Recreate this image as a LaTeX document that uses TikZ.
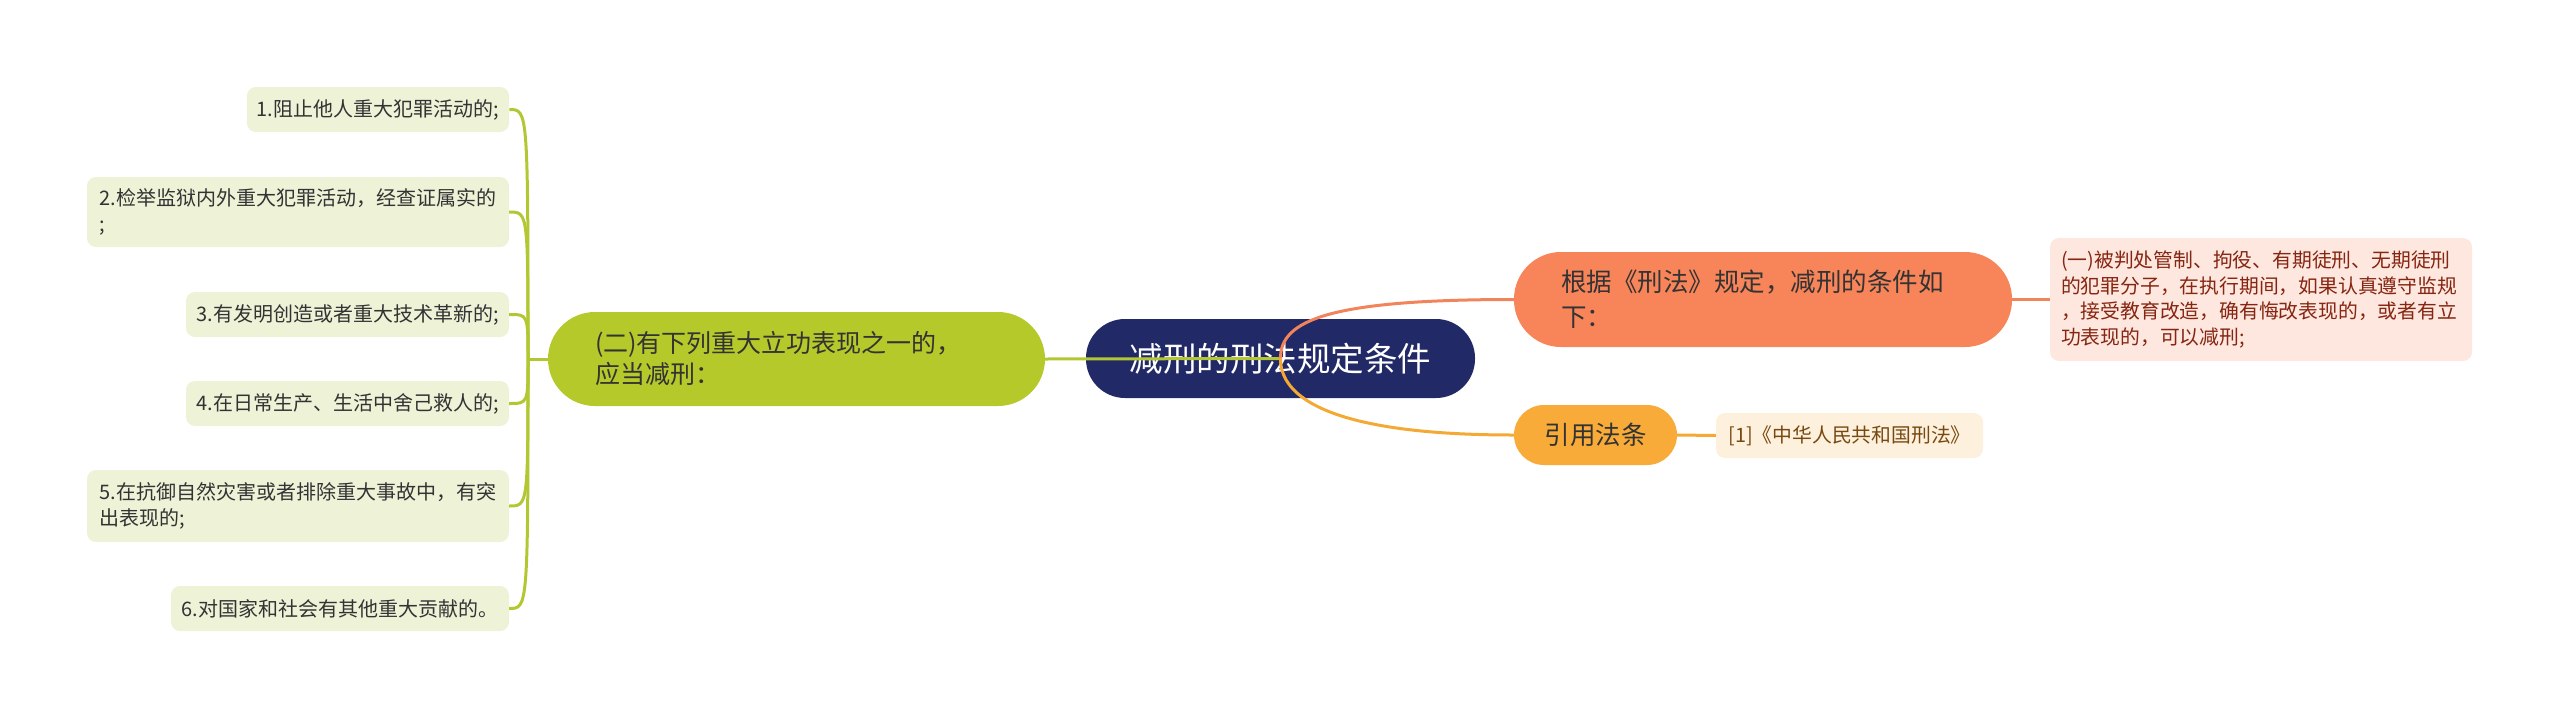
\documentclass[tikz,border=0pt]{standalone}
\usepackage{fontspec}
\setmainfont{Noto Sans CJK SC}
\definecolor{rootc}{HTML}{212966}
\definecolor{greenc}{HTML}{B5C92B}
\definecolor{greenl}{HTML}{B3C733}
\definecolor{leafc}{HTML}{EEF2D7}
\definecolor{salmonc}{HTML}{F8845A}
\definecolor{salmonl}{HTML}{F2845C}
\definecolor{orangec}{HTML}{F8AB38}
\definecolor{orangel}{HTML}{F5A935}
\definecolor{pinkleaf}{HTML}{FDE7DF}
\definecolor{pinktxt}{HTML}{862511}
\definecolor{creamleaf}{HTML}{FDF0DC}
\definecolor{creamtxt}{HTML}{77480F}
\definecolor{txt}{HTML}{333333}
\begin{document}
\begin{tikzpicture}[x=1pt,y=-1pt,
  leaf/.style={fill=leafc, rounded corners=9pt, inner xsep=10pt, inner ysep=0pt,
    minimum height=45pt, text=txt, font=\fontsize{20}{26}\selectfont, align=left},
  rootnode/.style={fill=rootc, rounded corners=39pt, minimum width=389pt, minimum height=79pt,
    inner sep=0pt, text=white, font=\fontsize{33.5}{38}\selectfont},
  branchnode/.style={fill=greenc, rounded corners=47pt, minimum height=94pt, inner ysep=0pt,
    inner xsep=47pt, text width=403pt, align=left, text=txt, font=\fontsize{25}{31}\selectfont},
  salmonnode/.style={fill=salmonc, rounded corners=47pt, minimum height=95pt, inner ysep=0pt,
    inner xsep=47pt, text width=404pt, align=left, text=txt, font=\fontsize{25.5}{35}\selectfont},
  quotenode/.style={fill=orangec, rounded corners=30pt, minimum width=163pt, minimum height=60pt,
    inner sep=0pt, text=txt, font=\fontsize{25.5}{30}\selectfont},
  pinknode/.style={fill=pinkleaf, rounded corners=9pt, minimum height=123pt, inner ysep=0pt,
    inner xsep=11pt, text width=400pt, align=left, text=pinktxt, font=\fontsize{19.8}{25.5}\selectfont},
  creamnode/.style={fill=creamleaf, rounded corners=9pt, minimum width=267pt, minimum height=45pt,
    inner sep=0pt, text=creamtxt, font=\fontsize{19.8}{24}\selectfont},
  gline/.style={draw=greenl, line width=3pt},
  sline/.style={draw=salmonl, line width=3pt},
  oline/.style={draw=orangel, line width=3pt}
]
\useasboundingbox (0,0) rectangle (2560,718);

% nodes
\node[rootnode] (root) at (1280.5,358.5) {减刑的刑法规定条件};
\node[branchnode] (br) at (796.5,359) {(二)有下列重大立功表现之一的，\\应当减刑：};
\node[leaf, minimum width=262pt] (l1) at (378,109.5) {1.阻止他人重大犯罪活动的;};
\node[leaf, minimum width=422pt, minimum height=70pt] (l2) at (298,212) {2.检举监狱内外重大犯罪活动，经查证属实的\\;};
\node[leaf, minimum width=323pt] (l3) at (347.5,314.5) {3.有发明创造或者重大技术革新的;};
\node[leaf, minimum width=323pt] (l4) at (347.5,403.5) {4.在日常生产、生活中舍己救人的;};
\node[leaf, minimum width=422pt, minimum height=72pt] (l5) at (298,506) {5.在抗御自然灾害或者排除重大事故中，有突\\出表现的;};
\node[leaf, minimum width=338pt] (l6) at (340,608.5) {6.对国家和社会有其他重大贡献的。};

\node[salmonnode] (sn) at (1763,299.5) {根据《刑法》规定，减刑的条件如\\下：};
\node[pinknode] (pn) at (2261,299.5) {(一)被判处管制、拘役、有期徒刑、无期徒刑\\的犯罪分子，在执行期间，如果认真遵守监规\\，接受教育改造，确有悔改表现的，或者有立\\功表现的，可以减刑;};
\node[quotenode] (qn) at (1595.5,435) {引用法条};
\node[creamnode] (cn) at (1849.5,435.5) {[1]《中华人民共和国刑法》};

% connectors
\coordinate (J) at (528,359);
\draw[gline] (br.east) -- (root.center);
\draw[gline] (br.west) -- (J);
\foreach \n in {l1,l2,l3,l4,l5,l6}{
  \draw[gline] (J) .. controls (J |- \n.east) .. (\n.east);
}
\draw[sline] (root.center) .. controls (1280,320) and (1330,299.5) .. (sn.west);
\draw[oline] (root.center) .. controls (1280,397) and (1330,435) .. (qn.west);
\draw[sline] (sn.east) -- (pn.west);
\draw[oline] (qn.east) -- (cn.west);
\end{tikzpicture}
\end{document}
